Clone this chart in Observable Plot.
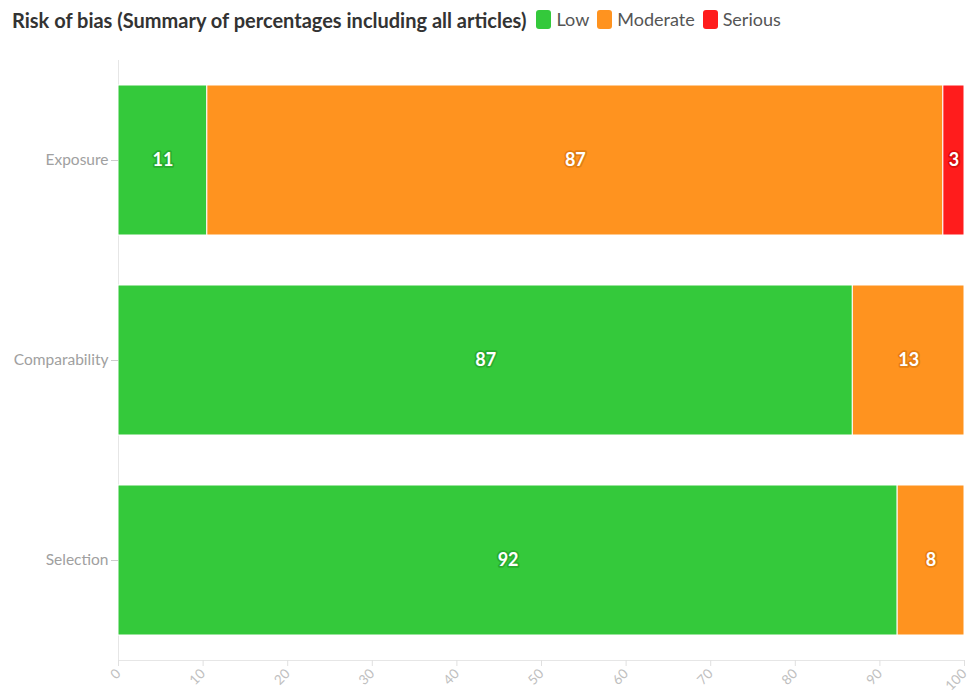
<!DOCTYPE html>
<html>
<head>
<meta charset="utf-8">
<script src="https://cdn.jsdelivr.net/npm/d3@7"></script>
<script src="https://cdn.jsdelivr.net/npm/@observablehq/plot@0.6"></script>
<style>
  body { margin: 0; background: #fff; font-family: Lato, "Open Sans", sans-serif; }
  #head { height: 40px; display: flex; align-items: center; padding-left: 12px; box-sizing: border-box; }
  #title { font-weight: bold; font-size: 20px; color: #333; margin-right: 10px; }
  .sw { display: inline-flex; align-items: center; margin-right: 8px; font-size: 18px; color: #555; }
  .sw i { display: inline-block; width: 15px; height: 19px; border-radius: 3px; margin-right: 5px; }
</style>
</head>
<body>
<div id="head"><span id="title">Risk of bias (Summary of percentages including all articles)</span><span id="legend"></span></div>
<div id="chart"></div>
<script>
const categories = ["Exposure", "Comparability", "Selection"];
const levels = ["Low", "Moderate", "Serious"];
const colors = ["#34c93b", "#ff931f", "#ff1c1c"];
const haloColors = ["#1f8f24", "#c86a05", "#b30000"];
const lowValues = [10.5, 86.8, 92.1];
const moderateValues = [87.0, 13.2, 7.9];
const seriousValues = [2.5, 0, 0];
const xTicks = [0, 10, 20, 30, 40, 50, 60, 70, 80, 90, 100];

const series = [lowValues, moderateValues, seriousValues];
const data = [];
categories.forEach((c, i) => levels.forEach((l, j) => {
  if (series[j][i] > 0) data.push({category: c, level: l, value: series[j][i]});
}));

const legend = document.getElementById("legend");
levels.forEach((l, j) => {
  const s = document.createElement("span");
  s.className = "sw";
  s.innerHTML = `<i style="background:${colors[j]}"></i>${l}`;
  legend.appendChild(s);
});

const halo = d => haloColors[levels.indexOf(d.level)];

const chart = Plot.plot({
  width: 971,
  height: 654,
  marginLeft: 118,
  marginRight: 7,
  marginTop: 20,
  marginBottom: 34,
  style: {fontFamily: "Lato, 'Open Sans', sans-serif", background: "#fff"},
  x: {domain: [0, 100], ticks: xTicks, label: null},
  y: {domain: categories, label: null, paddingInner: 0.25, paddingOuter: 0.125},
  color: {domain: levels, range: colors},
  marks: [
    Plot.ruleX([0], {stroke: "#e6e6e6"}),
    Plot.frame({anchor: "bottom", stroke: "#e6e6e6"}),
    Plot.barX(data, Plot.stackX({x: "value", y: "category", fill: "level", order: levels, stroke: "#fff", strokeWidth: 1, inset: 0})),
    Plot.text(data, Plot.stackX({x: "value", y: "category", order: levels, text: d => String(Math.round(d.value)), fill: "#fff", stroke: halo, strokeWidth: 3.5, strokeOpacity: 0.5, fontWeight: "bold", fontSize: 18})),
    Plot.axisY({tickSize: 7, tickPadding: 3, fontSize: 15.5, color: "#a0a0a0", stroke: "#ccc"}),
    Plot.axisX({ticks: xTicks, tickRotate: -45, tickSize: 6, tickPadding: 5, fontSize: 13.5, color: "#c0c0c0", stroke: "#e0e0e0", label: null})
  ]
});
document.getElementById("chart").appendChild(chart);
</script>
</body>
</html>
